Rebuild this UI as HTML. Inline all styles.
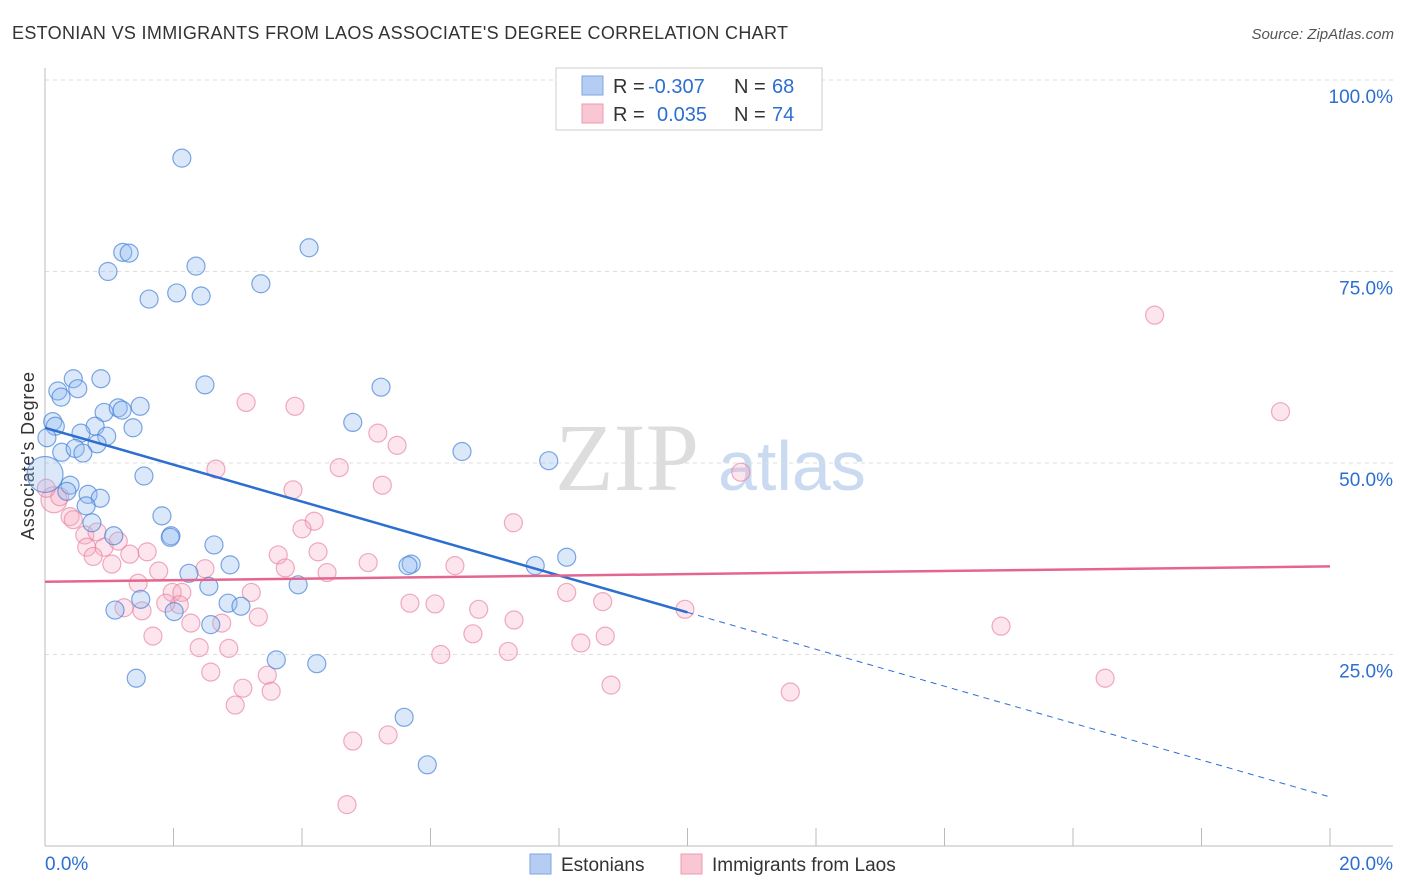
<!DOCTYPE html>
<html><head><meta charset="utf-8"><style>
body{margin:0;background:#fff;font-family:"Liberation Sans",sans-serif;}
#wrap{position:relative;width:1406px;height:892px;overflow:hidden}
</style></head><body>
<div id="wrap">
<svg id="chart" width="1406" height="892" xmlns="http://www.w3.org/2000/svg">
<text x="12" y="39" font-size="18" fill="#333" textLength="776">ESTONIAN VS IMMIGRANTS FROM LAOS ASSOCIATE'S DEGREE CORRELATION CHART</text>
<text x="1394" y="39" font-size="15" fill="#555" font-style="italic" text-anchor="end">Source: ZipAtlas.com</text>
<text x="34" y="456" font-size="18" fill="#333" transform="rotate(-90 34 456)" text-anchor="middle" textLength="168">Associate's Degree</text>
<text x="555" y="490" font-size="96" fill="#ddd" font-family="Liberation Serif,serif">ZIP</text>
<text x="718" y="490" font-size="70" fill="#c9daf1">atlas</text>
<g id="grid"></g><g id="pts"></g><g id="lines"></g>
<g>
<rect x="556" y="68" width="266" height="62" fill="#fff" stroke="#ccc"/>
<rect x="582" y="76" width="21" height="19" fill="#b5cdf2" stroke="#7ea6e0"/>
<rect x="582" y="104" width="21" height="19" fill="#f9c6d4" stroke="#eb9ab2"/>
<text x="613" y="93" font-size="20" fill="#333">R =</text>
<text x="648" y="93" font-size="20" fill="#2c6fd1">-0.307</text>
<text x="734" y="93" font-size="20" fill="#333">N =</text>
<text x="772" y="93" font-size="20" fill="#2c6fd1">68</text>
<text x="613" y="121" font-size="20" fill="#333">R =</text>
<text x="657" y="121" font-size="20" fill="#2c6fd1">0.035</text>
<text x="734" y="121" font-size="20" fill="#333">N =</text>
<text x="772" y="121" font-size="20" fill="#2c6fd1">74</text>
</g>
<g>
<rect x="530" y="854" width="21" height="20" fill="#b5cdf2" stroke="#7ea6e0"/>
<text x="561" y="871" font-size="19" fill="#333">Estonians</text>
<rect x="681" y="854" width="21" height="20" fill="#f9c6d4" stroke="#eb9ab2"/>
<text x="712" y="871" font-size="19" fill="#333">Immigrants from Laos</text>
</g>
</svg>
</div>
<script>
const blueX=[2.13,1.21,1.31,0.98,2.35,4.11,1.62,2.05,2.43,3.36,0.44,0.87,2.49,5.23,0.2,0.51,0.25,0.92,1.14,1.2,1.48,0.12,0.16,0.78,1.37,0.56,0.96,4.79,0.03,0.81,0.26,0.47,0.59,6.49,7.84,0.0,1.54,0.39,0.34,0.67,0.86,0.64,1.82,0.73,1.07,1.96,1.95,2.63,2.88,5.7,5.65,8.12,7.63,2.24,2.55,3.94,1.49,2.85,3.05,1.09,2.01,2.58,3.6,4.23,1.42,5.59,5.95];
const blueY=[89.8,77.5,77.4,75.0,75.7,78.1,71.4,72.2,71.8,73.4,61.0,61.0,60.2,59.9,59.4,59.7,58.6,56.6,57.2,56.9,57.4,55.4,54.8,54.8,54.6,53.9,53.5,55.3,53.3,52.5,51.4,51.9,51.3,51.5,50.3,48.5,48.3,47.1,46.3,45.9,45.4,44.4,43.1,42.2,40.5,40.5,40.3,39.3,36.7,36.8,36.6,37.7,36.6,35.6,33.9,34.1,32.2,31.7,31.3,30.8,30.6,28.9,24.3,23.8,21.9,16.8,10.6];
const pinkX=[17.27,19.23,10.83,3.13,3.89,2.66,4.58,5.18,5.48,5.25,3.86,7.29,4.19,4.0,0.14,0.23,0.02,0.39,0.44,0.62,0.81,0.65,0.92,1.14,1.32,1.59,0.75,1.04,1.77,2.49,3.63,3.74,4.39,5.03,6.38,4.25,1.45,1.98,2.13,2.09,1.88,1.23,1.51,3.21,8.12,8.68,5.68,6.07,6.75,9.96,3.32,2.27,2.75,7.3,1.68,6.66,8.72,2.4,2.86,8.34,6.16,7.21,14.88,2.58,3.46,3.08,3.52,8.81,11.6,16.5,2.96,4.79,5.34,4.7];
const pinkY=[69.3,56.7,48.8,57.9,57.4,49.2,49.4,53.9,52.3,47.1,46.5,42.2,42.4,41.4,45.2,45.6,46.7,43.0,42.6,40.6,41.0,39.0,39.0,39.8,38.1,38.4,37.8,36.8,35.9,36.2,38.0,36.3,35.7,37.0,36.6,38.4,34.3,33.1,33.1,31.5,31.7,31.1,30.7,33.1,33.1,31.9,31.7,31.6,30.9,30.9,29.9,29.1,29.1,29.5,27.4,27.7,27.4,25.9,25.8,26.5,25.0,25.4,28.7,22.7,22.3,20.6,20.2,21.0,20.1,21.9,18.4,13.7,14.5,5.4];
const trendBlue=[54.6,6.4], trendPink=[34.5,36.5];
const xTicks=[0,2,4,6,8,10,12,14,16,18,20];
const yTicks=[25,50,75,100];
const X=v=>45+v*64.25, Y=v=>846-v*7.66;
const NS="http://www.w3.org/2000/svg";
function mk(t,a,p){const e=document.createElementNS(NS,t);for(const k in a)e.setAttribute(k,a[k]);p.appendChild(e);return e;}
const g=document.getElementById('grid');
yTicks.forEach(t=>{
 const l=mk('line',{x1:45,x2:1393,y1:Y(t),y2:Y(t),stroke:'#ddd','stroke-dasharray':'4,4'},g);
 
 
 const tx=mk('text',{x:1393,y:Y(t)+23,'font-size':19,fill:'#2c6fd1','text-anchor':'end'},g);tx.textContent=t.toFixed(1)+'%';
 
 
});
const ax=mk('line',{x1:45,x2:45,y1:68,y2:846,stroke:'#bbb'},g);


const bx=mk('line',{x1:45,x2:1393,y1:846,y2:846,stroke:'#bbb'},g);


xTicks.forEach(t=>{
 const l=mk('line',{x1:X(t),x2:X(t),y1:828,y2:846,stroke:'#bbb'},g);
 
 
});
[[0,'start'],[20,'end']].forEach(([t,a])=>{
 const tx=mk('text',{x:t==0?45:1393,y:870,'font-size':19,fill:'#2c6fd1','text-anchor':a},g);tx.textContent=t.toFixed(1)+'%';
 
 
});
const pg=document.getElementById('pts');
pinkX.forEach((v,i)=>{
 const c=mk('circle',{cx:X(v),cy:Y(pinkY[i]),r:(i==14?13:9),fill:'rgba(246,170,192,0.3)',stroke:'rgba(232,128,158,0.65)','stroke-width':1.2},pg);
 
 
});
blueX.forEach((v,i)=>{
 const c=mk('circle',{cx:X(v),cy:Y(blueY[i]),r:(i==35?18:9),fill:'rgba(150,190,240,0.35)',stroke:'rgba(70,130,215,0.7)','stroke-width':1.2},pg);
 
 
});
const lg=document.getElementById('lines');
const by=x=>trendBlue[0]+(trendBlue[1]-trendBlue[0])*x/20;
const l1=mk('line',{x1:X(0),y1:Y(by(0)),x2:X(10),y2:Y(by(10)),stroke:'#2c6fd1','stroke-width':2.5},lg);


const l2=mk('line',{x1:X(10),y1:Y(by(10)),x2:X(20),y2:Y(by(20)),stroke:'#2c6fd1','stroke-width':1,'stroke-dasharray':'6,5'},lg);


const l3=mk('line',{x1:X(0),y1:Y(trendPink[0]),x2:X(20),y2:Y(trendPink[1]),stroke:'#e4668e','stroke-width':2.5},lg);


</script>
</body></html>
